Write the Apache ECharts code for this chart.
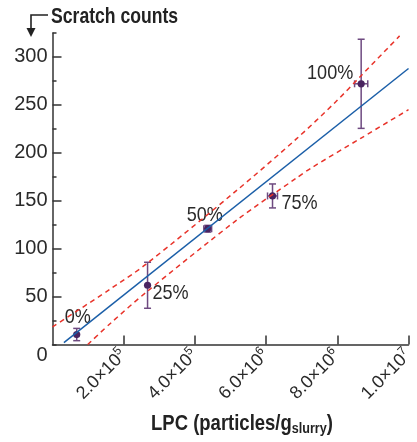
<!DOCTYPE html>
<html>
<head>
<meta charset="utf-8">
<script src="https://cdn.jsdelivr.net/npm/echarts@6/dist/echarts.min.js"></script>
<style>
html,body{margin:0;padding:0;background:#fff;}
#chart{width:417px;height:442px;}
</style>
</head>
<body>
<div id="chart"></div>
<script>
// ---- data ----
const categories = ['0%', '25%', '50%', '75%', '100%'];
const lpc = [6.8e5, 2.67e6, 4.36e6, 6.18e6, 8.67e6];          // particles / g slurry
const lpcErr = [0, 0, 1.1e5, 1.4e5, 1.85e5];
const scratch = [10.4, 61.8, 120.8, 155, 272];                 // scratch counts
const scratchErr = [6.4, 24, 3.5, 12.5, 46.5];

const fitX = [3.2e5, 1.0e7];
const fitY = [2, 288];

const upperX = [0, 1.6e6, 2.61e6, 5.14e6, 6.85e6, 7.95e6, 8.67e6, 9.75e6];
const upperY = [18.4, 57.3, 83.3, 159.7, 214.5, 253, 280.5, 322];
const lowerX = [0.99e6, 1.64e6, 2.61e6, 5.19e6, 6.85e6, 7.26e6, 8.67e6, 1.0e7];
const lowerY = [0, 22.5, 53.8, 130.2, 173.6, 184, 215.4, 245];

const xTickValues = [2e6, 4e6, 6e6, 8e6, 1e7];
const xTickMantissa = ['2.0', '4.0', '6.0', '8.0', '1.0'];
const xTickExp = ['5', '5', '6', '6', '7'];
const yTickValues = [0, 50, 100, 150, 200, 250, 300];

// ---- style (kept apart from the data) ----
const labelOffsets = [[1, -17], [23, 8], [-3, -14], [27, 7], [-31, -11]];
const FONT = '"Liberation Sans", Arial, Helvetica, sans-serif';
const AX = '#333333';

const zip = (a, b) => a.map((v, i) => [v, b[i]]);
const points = lpc.map((x, i) => [x, scratch[i], lpcErr[i], scratchErr[i], i]);

const chart = echarts.init(document.getElementById('chart'), null, {renderer: 'canvas'});

const option = {
  animation: false,
  backgroundColor: '#ffffff',
  grid: {left: 52.5, right: 3, top: 33, bottom: 97.5, containLabel: false},
  xAxis: {
    type: 'value', min: 0, max: 1e7, interval: 2e6,
    splitLine: {show: false},
    axisLine: {show: true, lineStyle: {color: AX, width: 1.5}},
    axisTick: {show: true, inside: true, length: 9, customValues: xTickValues, lineStyle: {color: AX, width: 1.5}},
    axisLabel: {
      customValues: xTickValues,
      rotate: 45, margin: 8,
      formatter: function (v) {
        const i = xTickValues.indexOf(v);
        if (i < 0) return '';
        return '{b|' + xTickMantissa[i] + '×10}{e|' + xTickExp[i] + '}';
      },
      rich: {
        b: {fontFamily: FONT, fontSize: 18, color: '#2a2a2a'},
        e: {fontFamily: FONT, fontSize: 12, color: '#2a2a2a', padding: [0, 0, 11, 0]}
      }
    }
  },
  yAxis: [
    {
      type: 'value', min: 0, max: 325, interval: 25, position: 'left',
      splitLine: {show: false},
      axisLine: {show: true, lineStyle: {color: AX, width: 1.5}},
      axisTick: {show: true, inside: true, length: 4, lineStyle: {color: AX, width: 1.5}},
      axisLabel: {
        customValues: yTickValues,
        margin: 5,
        fontFamily: FONT, fontSize: 20, color: '#2a2a2a',
        formatter: function (v) { return v === 0 ? '{z|0}' : String(v); },
        rich: {z: {fontFamily: FONT, fontSize: 20, color: '#2a2a2a', padding: [22, 0, 0, 0]}}
      }
    },
    {
      type: 'value', min: 0, max: 325, interval: 25, position: 'left',
      splitLine: {show: false},
      axisLine: {show: false},
      axisTick: {show: true, inside: true, length: 9, customValues: yTickValues.filter(v => v > 0), lineStyle: {color: AX, width: 1.5}},
      axisLabel: {show: false}
    }
  ],
  series: [
    {
      type: 'line', name: 'upper', data: zip(upperX, upperY), smooth: 0.3,
      showSymbol: false, symbol: 'none',
      lineStyle: {color: '#e8332a', width: 1.5, type: [5, 4]}
    },
    {
      type: 'line', name: 'lower', data: zip(lowerX, lowerY), smooth: 0.3,
      showSymbol: false, symbol: 'none',
      lineStyle: {color: '#e8332a', width: 1.5, type: [5, 4]}
    },
    {
      type: 'line', name: 'fit', data: zip(fitX, fitY),
      showSymbol: false, symbol: 'none',
      lineStyle: {color: '#1b5fa8', width: 1.5}
    },
    {
      type: 'custom', name: 'points', data: points, clip: false,
      renderItem: function (params, api) {
        const x = api.value(0), y = api.value(1), ex = api.value(2), ey = api.value(3), idx = api.value(4);
        const p = api.coord([x, y]);
        const t = api.coord([x, y + ey]);
        const b = api.coord([x, y - ey]);
        const barStyle = {stroke: '#6e4a80', lineWidth: 1.5, fill: null};
        const cw = 3.5;
        const ch = [
          {type: 'line', shape: {x1: p[0], y1: t[1], x2: p[0], y2: b[1]}, style: barStyle},
          {type: 'line', shape: {x1: p[0] - cw, y1: t[1], x2: p[0] + cw, y2: t[1]}, style: barStyle},
          {type: 'line', shape: {x1: p[0] - cw, y1: b[1], x2: p[0] + cw, y2: b[1]}, style: barStyle}
        ];
        if (ex > 0) {
          const l = api.coord([x - ex, y]);
          const r = api.coord([x + ex, y]);
          ch.push({type: 'line', shape: {x1: l[0], y1: p[1], x2: r[0], y2: p[1]}, style: barStyle});
          ch.push({type: 'line', shape: {x1: l[0], y1: p[1] - cw, x2: l[0], y2: p[1] + cw}, style: barStyle});
          ch.push({type: 'line', shape: {x1: r[0], y1: p[1] - cw, x2: r[0], y2: p[1] + cw}, style: barStyle});
        }
        ch.push({type: 'circle', shape: {cx: p[0], cy: p[1], r: 3.6}, style: {fill: '#4a2460', stroke: null}});
        const off = labelOffsets[idx];
        ch.push({
          type: 'text', x: p[0] + off[0], y: p[1] + off[1], scaleX: 0.86,
          style: {text: categories[idx], fill: '#2a2a2a', fontFamily: FONT, fontSize: 21, align: 'center', verticalAlign: 'middle'}
        });
        return {type: 'group', children: ch};
      }
    }
  ],
  graphic: [
    {
      type: 'text', x: 51, y: 17, scaleX: 0.8,
      style: {text: 'Scratch counts', fill: '#222', fontFamily: FONT, fontSize: 22, fontWeight: 'bold', align: 'left', verticalAlign: 'middle'}
    },
    {
      type: 'polyline', shape: {points: [[48, 15], [31, 15], [31, 30]]},
      style: {stroke: '#222', lineWidth: 1.6, fill: null}
    },
    {
      type: 'polygon', shape: {points: [[26.5, 28], [35.5, 28], [31, 37]]},
      style: {fill: '#222', stroke: null}
    },
    {
      type: 'text', x: 242, y: 424, scaleX: 0.84,
      style: {
        text: '{m|LPC (particles/g}{s|slurry}{m|)}',
        align: 'center', verticalAlign: 'middle',
        rich: {
          m: {fontFamily: FONT, fontSize: 22, fontWeight: 'bold', fill: '#222', color: '#222'},
          s: {fontFamily: FONT, fontSize: 15, fontWeight: 'bold', fill: '#222', color: '#222', padding: [10, 0, 0, 0]}
        }
      }
    }
  ]
};
chart.setOption(option);
</script>
</body>
</html>
